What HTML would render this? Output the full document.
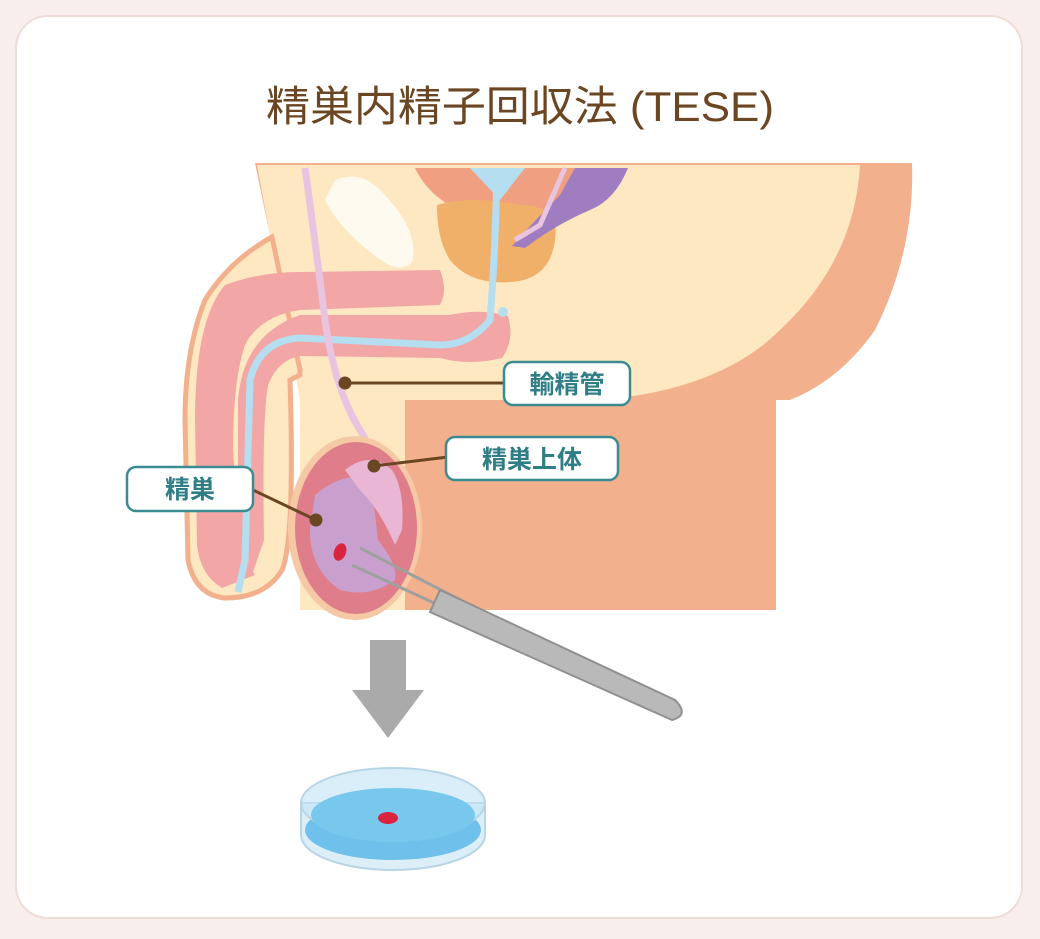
<!DOCTYPE html>
<html><head><meta charset="utf-8"><style>
html,body{margin:0;padding:0;width:1040px;height:939px;background:#f8efec;overflow:hidden}
svg{display:block}
text{font-family:"Liberation Sans","Noto Sans CJK JP",sans-serif}
</style></head><body>
<svg width="1040" height="939" viewBox="0 0 1040 939">
<rect x="16" y="16" width="1006" height="902" rx="32" fill="#fff" stroke="#f0dcd6" stroke-width="2"/>
<text x="520" y="121" text-anchor="middle" font-size="42" fill="#6b4623" textLength="508" lengthAdjust="spacingAndGlyphs">精巣内精子回収法 (TESE)</text>

<path d="M255,163 L912,163 Q915,250 875,330 Q840,380 790,400 L776,400 L776,610 L405,610 L405,400 Q300,390 270,235 Z" fill="#f2b08c"/>
<path d="M257,165 L860,165 Q855,260 780,330 Q720,390 600,400 L405,400 L405,610 L300,610 L300,400 L270,235 Z" fill="#fde8c2"/>
<path d="M405,402 Q420,400 600,402 Q700,398 780,350 L790,400 L776,400 L776,610 L405,610 Z" fill="#f2b08c"/>
<path d="M335,180 Q360,170 380,190 Q420,230 412,262 Q400,275 378,258 Q340,230 325,200 Z" fill="#fffaf0"/>
<path d="M415,168 L590,168 Q585,200 560,210 Q520,225 470,215 Q430,200 415,168 Z" fill="#f0a080"/>
<path d="M437,205 Q470,195 520,205 Q560,205 555,240 Q550,280 510,282 Q470,285 450,260 Q437,240 437,205 Z" fill="#f1b06a"/>
<path d="M575,168 L628,168 Q615,200 590,210 Q555,225 525,248 L512,246 Q540,215 560,195 Z" fill="#a07cc0"/>
<path d="M272,237 Q230,260 205,300 Q185,350 185,420 L188,560 Q195,595 225,598 Q265,598 282,570 Q295,540 290,380 L300,375 L300,370 Z" fill="#fde8c2" stroke="#f2b08c" stroke-width="5"/>
<path d="M225,285 Q260,272 300,272 L440,270 Q448,290 440,305 L300,310 Q260,316 245,345 Q233,380 233,450 L240,540 Q245,560 255,575 L222,588 Q200,575 197,545 L195,420 Q195,320 225,285 Z" fill="#f2a6a6"/>
<path d="M300,315 L450,315 Q480,308 508,316 Q515,340 502,358 Q470,366 440,358 L300,356 Q278,360 268,385 Q262,420 264,540 L252,575 L238,565 L238,400 Q243,335 300,315 Z" fill="#f2a6a6"/>
<path d="M497,170 Q495,260 490,320 Q470,345 440,345 L300,338 Q260,340 250,380 L245,560 L238,592" fill="none" stroke="#b5def0" stroke-width="7"/>
<circle cx="503" cy="312" r="5" fill="#b5def0"/>
<path d="M470,168 L525,168 L500,200 Z" fill="#b5def0"/>
<path d="M305,168 Q315,240 325,320 Q335,390 360,430 Q390,480 405,540 Q408,560 400,568" fill="none" stroke="#e8c4e0" stroke-width="7"/>
<path d="M565,168 L540,225 L515,240" fill="none" stroke="#e8c4e0" stroke-width="5"/>
<ellipse cx="355" cy="528" rx="67" ry="92" fill="#f6c9a6"/>
<ellipse cx="356" cy="528" rx="61" ry="86" fill="#e07d8a"/>
<path d="M315,495 Q345,470 370,480 Q375,510 378,540 Q398,565 395,580 Q370,598 340,590 Q310,570 310,530 Z" fill="#c9a0cd"/>
<path d="M345,470 Q370,450 392,470 Q405,490 402,530 L395,545 Q380,510 360,490 Z" fill="#e9b6d6"/>
<ellipse cx="340" cy="552" rx="6" ry="9" fill="#d9233f" transform="rotate(20 340 552)"/>
<line x1="360" y1="548" x2="470" y2="605" stroke="#a0a0a0" stroke-width="3"/>
<line x1="352" y1="565" x2="460" y2="615" stroke="#a0a0a0" stroke-width="3"/>
<path d="M440,590 L675,700 Q690,715 672,720 L430,612 Z" fill="#b9b9b9" stroke="#909090" stroke-width="2"/>
<g stroke="#6b4623" stroke-width="3" fill="#6b4623">
<line x1="345" y1="383" x2="505" y2="383"/><circle cx="345" cy="383" r="5"/>
<line x1="374" y1="466" x2="448" y2="457"/><circle cx="374" cy="466" r="5"/>
<line x1="253" y1="490" x2="316" y2="520"/><circle cx="316" cy="520" r="5"/>
</g>
<g fill="#fff" stroke="#3b8b92" stroke-width="2.5">
<rect x="504" y="362" width="126" height="43" rx="9"/>
<rect x="446" y="437" width="172" height="43" rx="9"/>
<rect x="127" y="467" width="126" height="44" rx="9"/>
</g>
<g fill="#2f7d85" font-size="25" font-weight="bold" text-anchor="middle">
<text x="567" y="393">輸精管</text>
<text x="532" y="468">精巣上体</text>
<text x="190" y="498">精巣</text>
</g>
<rect x="370" y="640" width="36" height="52" fill="#aaa"/>
<path d="M352,690 L424,690 L388,738 Z" fill="#aaa"/>
<path d="M301,803 L301,835 A92,35 0 0 0 485,835 L485,803 Z" fill="#dceff8" stroke="#b8d5e5" stroke-width="2"/>
<ellipse cx="393" cy="830" rx="88" ry="30" fill="#6fc0ea"/>
<ellipse cx="393" cy="803" rx="92" ry="35" fill="#bfe3f5" fill-opacity="0.6" stroke="#b8d5e5" stroke-width="2"/>
<ellipse cx="393" cy="815" rx="82" ry="27" fill="#78c8ee"/>
<ellipse cx="388" cy="818" rx="10" ry="6" fill="#d9233f"/>
</svg>
</body></html>
